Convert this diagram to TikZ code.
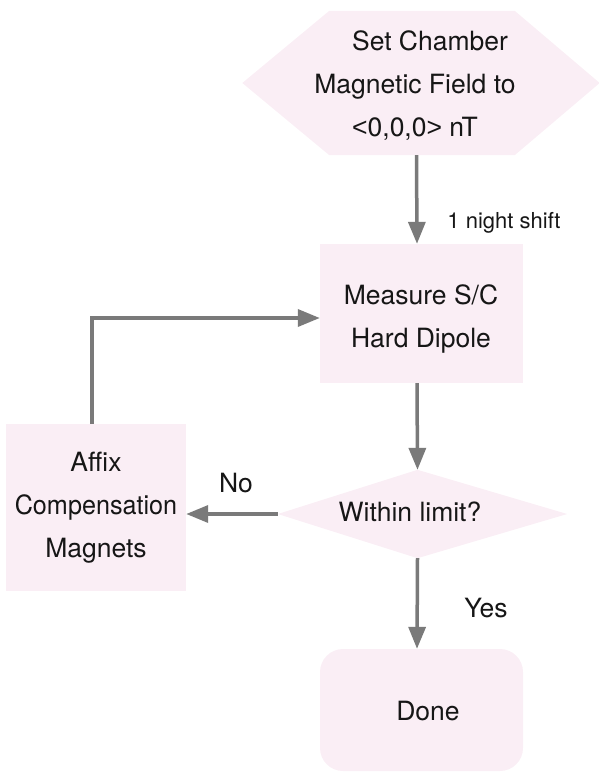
\documentclass[tikz,border=0pt]{standalone}
\usepackage{fontspec}
\usepackage{graphicx}
\setmainfont{TeX Gyre Heros}
\newfontfamily\bracketfont{Liberation Sans}
\usetikzlibrary{arrows.meta}
\definecolor{boxfill}{RGB}{250,238,245}
\definecolor{flow}{RGB}{122,122,122}
\definecolor{ink}{RGB}{22,22,22}
\tikzset{
  every node/.style={text=ink, inner sep=0pt, align=center},
  body/.style={font=\fontsize{26.5}{43}\selectfont},
  note/.style={font=\fontsize{22}{26}\selectfont},
  shapebox/.style={rectangle, minimum width=203pt, minimum height=139pt},
  stepbox/.style={shapebox, fill=boxfill},
  flowline/.style={draw=flow, line width=3.5pt, -{Triangle[length=22pt,width=17pt]}},
}
\begin{document}
\begin{tikzpicture}[x=1pt,y=-1pt]
\useasboundingbox (0,0) rectangle (598,778);

% start: hexagon
\node[minimum width=357pt, minimum height=144pt] (start) at (421,83) {};
\fill[boxfill] (start.west) -- ([xshift=87pt]start.north west) -- ([xshift=-85pt]start.north east)
  -- (start.east) -- ([xshift=-85pt]start.south east) -- ([xshift=87pt]start.south west) -- cycle;
\node[body] (startlbl) at (415,86)
  {\hspace*{30pt}Set Chamber\\Magnetic Field to\\{\bracketfont\textless}0,0,0{\bracketfont\textgreater} nT};

% measurement step
\node[stepbox] (meas) at (421.5,313.5) {};
\node[body] (measlbl) at (421,318.5) {Measure S/C\\Hard Dipole};

% decision: diamond
\node[minimum width=289pt, minimum height=88pt] (check) at (422.5,514) {};
\fill[boxfill] (check.west) -- ([xshift=-5pt]check.north) -- (check.east) -- ([xshift=-5pt]check.south) -- cycle;
\node[body] (checklbl) at (410,512) {Within limit?};

% compensation step
\node[stepbox, minimum width=180pt, minimum height=167pt, body] (fix) at (96,507.5)
  {Affix\\\scalebox{0.95}[1]{Compensation}\\Magnets};

% end: rounded box
\node[shapebox, fill=boxfill, minimum height=122pt, rounded corners=23pt] (done) at (421.5,710) {};
\node[body] (donelbl) at (428,711) {Done};

% connectors
\draw[flowline] ([xshift=-4.5pt]start.south) -- ([xshift=-4.5pt]meas.north);
\node[note] (shift) at (504,223) {1 night shift};
\draw[flowline] ([xshift=-4.5pt]meas.south) -- ([xshift=-5pt]check.north);
\draw[flowline] (check.west) -- (check.west -| fix.east);
\node[body] (no) at (236,483) {No};
\draw[flowline] ([xshift=-5pt]check.south) -- ([xshift=-4.5pt]done.north);
\node[body] (yes) at (486,608) {Yes};
\draw[flowline] ([xshift=-4pt]fix.north) |- ([yshift=-4.5pt]meas.west);
\end{tikzpicture}
\end{document}
